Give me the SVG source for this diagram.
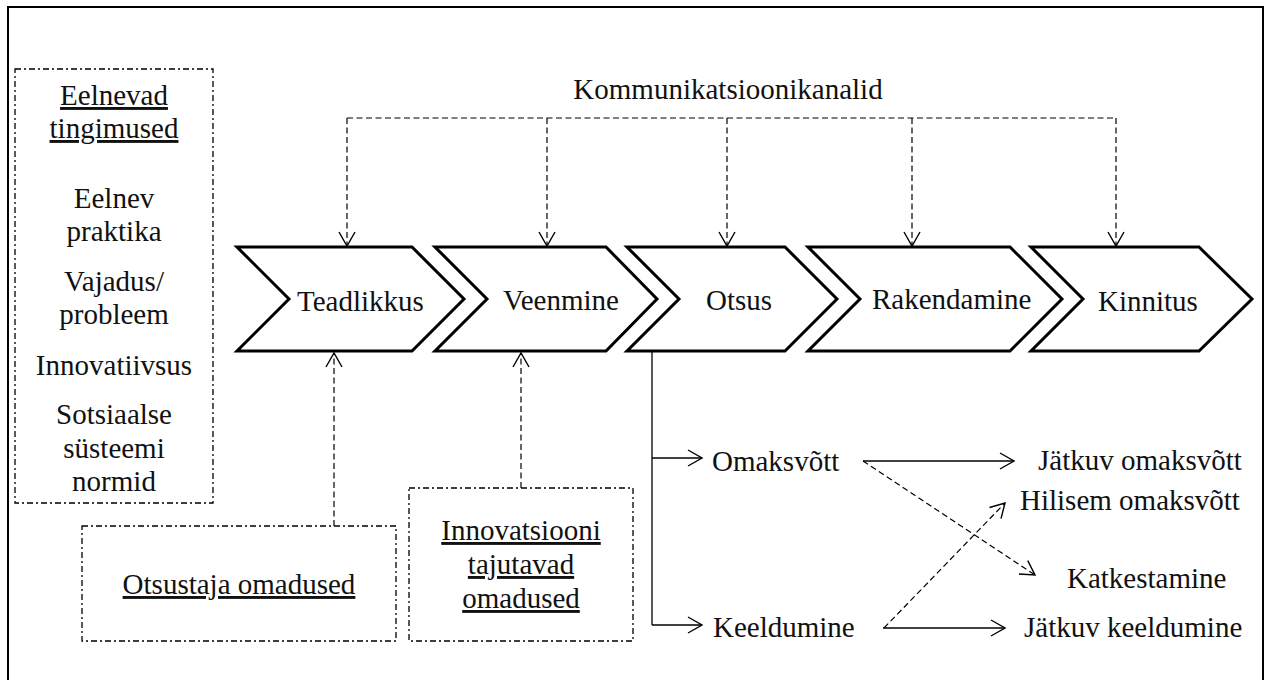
<svg xmlns="http://www.w3.org/2000/svg" width="1268" height="680" viewBox="0 0 1268 680">
<style>
text{font-family:"Liberation Serif","Times New Roman",serif;font-size:29px;fill:#111}
.c{text-anchor:middle}
.u{text-decoration:underline}
.chev{fill:#fff;stroke:#000;stroke-width:3;stroke-linejoin:miter}
.box{fill:none;stroke:#000;stroke-width:1.3;stroke-dasharray:6 3 2 3}
.dash{fill:none;stroke:#000;stroke-width:1.2;stroke-dasharray:6 3.5}
.solid{fill:none;stroke:#000;stroke-width:1.3}
</style>
<defs>
<marker id="ah" markerUnits="userSpaceOnUse" markerWidth="20" markerHeight="24" refX="15" refY="10" orient="auto" viewBox="0 0 20 24">
<path d="M1,2 L15,10 L1,18" fill="none" stroke="#000" stroke-width="1.4" stroke-dasharray="none"/>
</marker>
</defs>
<rect x="8" y="7" width="1255" height="680" fill="none" stroke="#000" stroke-width="2"/>

<g id="eelnevad">
<rect class="box" x="15" y="69" width="198" height="434"/>
<text class="c u" x="114" y="105">Eelnevad</text>
<text class="c u" x="114" y="138">tingimused</text>
<text class="c" x="114" y="208">Eelnev</text>
<text class="c" x="114" y="241">praktika</text>
<text class="c" x="114" y="291">Vajadus/</text>
<text class="c" x="114" y="324">probleem</text>
<text class="c" x="114" y="375">Innovatiivsus</text>
<text class="c" x="114" y="424">Sotsiaalse</text>
<text class="c" x="114" y="458">süsteemi</text>
<text class="c" x="114" y="491">normid</text>
</g>

<g id="kommunikatsioonikanalid">
<text class="c" x="728" y="99">Kommunikatsioonikanalid</text>
</g>

<g id="teadlikkus">
<polygon class="chev" points="237,247 412,247 464,299 412,351 237,351 289,299"/>
<text x="297" y="311">Teadlikkus</text>
</g>
<g id="veenmine">
<polygon class="chev" points="435,247 606,247 657,299 606,351 435,351 487,299"/>
<text x="503" y="310">Veenmine</text>
</g>
<g id="otsus">
<polygon class="chev" points="627,247 785,247 837,299 785,351 627,351 679,299"/>
<text x="706" y="310">Otsus</text>
</g>
<g id="rakendamine">
<polygon class="chev" points="808,247 1010,247 1062,299 1010,351 808,351 860,299"/>
<text x="872" y="309">Rakendamine</text>
</g>
<g id="kinnitus">
<polygon class="chev" points="1031,247 1199,247 1252,299 1199,351 1031,351 1083,299"/>
<text x="1098" y="311">Kinnitus</text>
</g>

<g id="otsustaja">
<rect class="box" x="82" y="526" width="314" height="115"/>
<text class="c u" x="239" y="594">Otsustaja omadused</text>
</g>
<g id="innovatsiooni">
<rect class="box" x="409" y="488" width="224" height="153"/>
<text class="c u" x="521" y="540">Innovatsiooni</text>
<text class="c u" x="521" y="574">tajutavad</text>
<text class="c u" x="521" y="608">omadused</text>
</g>

<g id="omaksvott"><text x="712" y="471">Omaksvõtt</text></g>
<g id="keeldumine"><text x="713" y="637">Keeldumine</text></g>
<g id="jatkuv-omaksvott"><text x="1038" y="470">Jätkuv omaksvõtt</text></g>
<g id="hilisem-omaksvott"><text x="1020" y="510">Hilisem omaksvõtt</text></g>
<g id="katkestamine"><text x="1067" y="588">Katkestamine</text></g>
<g id="jatkuv-keeldumine"><text x="1024" y="637">Jätkuv keeldumine</text></g>

<g id="connectors">
<path class="dash" d="M347,118 H1116"/>
<path class="dash" d="M347,118 V246" marker-end="url(#ah)"/>
<path class="dash" d="M547,118 V246" marker-end="url(#ah)"/>
<path class="dash" d="M727,118 V246" marker-end="url(#ah)"/>
<path class="dash" d="M912,118 V246" marker-end="url(#ah)"/>
<path class="dash" d="M1116,118 V246" marker-end="url(#ah)"/>
<path class="dash" d="M334,526 V353" marker-end="url(#ah)"/>
<path class="dash" d="M521,488 V353" marker-end="url(#ah)"/>
<path class="solid" d="M652,351 V625"/>
<path class="solid" d="M652,458 H702" marker-end="url(#ah)"/>
<path class="solid" d="M652,625 H702" marker-end="url(#ah)"/>
<path class="solid" d="M863,461 H1014" marker-end="url(#ah)"/>
<path class="solid" d="M883,628 H1005" marker-end="url(#ah)"/>
<path class="dash" d="M863,461 L1035,575" marker-end="url(#ah)"/>
<path class="dash" d="M884,628 L1005,503" marker-end="url(#ah)"/>
</g>
</svg>
